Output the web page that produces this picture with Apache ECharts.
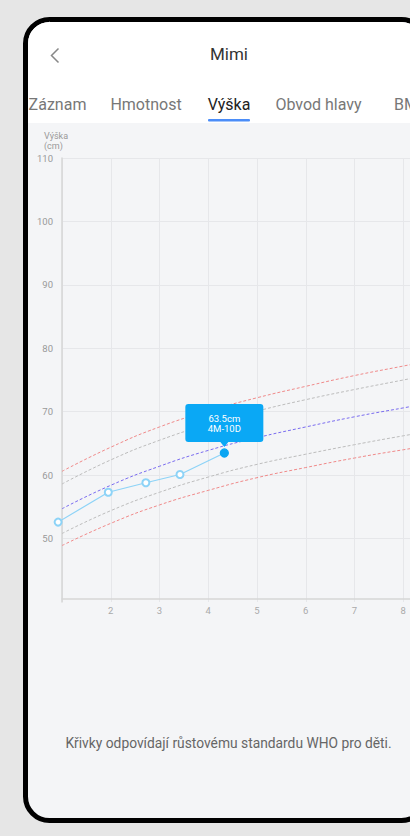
<!DOCTYPE html>
<html>
<head>
<meta charset="utf-8">
<script src="https://cdn.jsdelivr.net/npm/echarts@6/dist/echarts.min.js"></script>
<style>
html,body{margin:0;padding:0;background:#e6e6e6;overflow:hidden;}
#chart{width:410px;height:836px;}
</style>
</head>
<body>
<div id="chart"></div>
<script>
// WHO length-for-age reference curves (months 1..9)
const months = [1, 2, 3, 4, 5, 6, 7, 8, 9];
const sdMinus3 = [48.9, 52.4, 55.3, 57.6, 59.6, 61.2, 62.7, 64.0, 65.2];
const sdMinus2 = [50.8, 54.4, 57.3, 59.7, 61.7, 63.3, 64.8, 66.2, 67.5];
const median   = [54.7, 58.4, 61.4, 63.9, 65.9, 67.6, 69.2, 70.6, 72.0];
const sdPlus2  = [58.6, 62.4, 65.5, 68.0, 70.1, 71.9, 73.5, 75.0, 76.5];
const sdPlus3  = [60.6, 64.4, 67.6, 70.1, 72.2, 74.0, 75.7, 77.2, 78.7];

// Measurements of the child
const ages    = [0.92, 1.95, 2.72, 3.42, 4.33];
const heights = [52.6, 57.3, 58.8, 60.1, 63.5];
const ageLabels = ['0M-28D', '1M-29D', '2M-22D', '3M-13D', '4M-10D'];

// Texts
const title = 'Mimi';
const tabs = ['Záznam', 'Hmotnost', 'Výška', 'Obvod hlavy', 'BMI'];
const yNameLines = ['Výška', '(cm)'];
const footnote = 'Křivky odpovídají růstovému standardu WHO pro děti.';

const pair = (xs, ys) => xs.map((x, i) => [x, ys[i]]);

const curve = (data, color) => ({
  type: 'line',
  data: pair(months, data),
  smooth: true,
  symbol: 'none',
  silent: true,
  lineStyle: { color: color, width: 1, type: [3, 2] },
  z: 2
});

const F = 'Roboto, "Noto Sans", sans-serif';

const chart = echarts.init(document.getElementById('chart'), null, { renderer: 'svg' });

const last = ages.length - 1;
const measured = pair(ages, heights).map((p, i) => i === last
  ? { value: p, symbol: 'circle', symbolSize: 8, itemStyle: { color: '#0aa5f2', borderColor: '#0aa5f2' } }
  : { value: p });

chart.setOption({
  animation: false,
  backgroundColor: '#e6e6e6',
  textStyle: { fontFamily: F },
  graphic: [
    { type: 'rect', z: -20, shape: { x: 25.5, y: 19.5, width: 400, height: 801, r: 24 },
      style: { fill: '#f4f5f7', stroke: '#000', lineWidth: 5 } },
    { type: 'rect', z: -19, shape: { x: 28, y: 22, width: 395, height: 101, r: [21.5, 21.5, 0, 0] },
      style: { fill: '#ffffff' } },
    { type: 'polyline', z: 5, shape: { points: [[58.5, 48.5], [51.5, 55.5], [58.5, 62.5]] },
      style: { stroke: '#888', lineWidth: 1.5, fill: null } },
    { type: 'text', z: 5, x: 229, y: 54, style: { text: title, font: '17px ' + F, fill: '#333', align: 'center', verticalAlign: 'middle' } },
    { type: 'text', z: 5, x: 57.5, y: 104, style: { text: tabs[0], font: '16px ' + F, fill: '#777', align: 'center', verticalAlign: 'middle' } },
    { type: 'text', z: 5, x: 146, y: 104, style: { text: tabs[1], font: '16px ' + F, fill: '#777', align: 'center', verticalAlign: 'middle' } },
    { type: 'text', z: 5, x: 229, y: 104, style: { text: tabs[2], font: '16px ' + F, fill: '#222', align: 'center', verticalAlign: 'middle' } },
    { type: 'text', z: 5, x: 318.5, y: 104, style: { text: tabs[3], font: '16px ' + F, fill: '#777', align: 'center', verticalAlign: 'middle' } },
    { type: 'text', z: 5, x: 394, y: 104, style: { text: tabs[4], font: '16px ' + F, fill: '#777', align: 'left', verticalAlign: 'middle' } },
    { type: 'rect', z: 5, shape: { x: 208, y: 119, width: 42, height: 2.5, r: 1 }, style: { fill: '#4b8df8' } },
    { type: 'text', z: 5, x: 44, y: 136, style: { text: yNameLines[0], font: '9px ' + F, fill: '#999', align: 'left', verticalAlign: 'middle' } },
    { type: 'text', z: 5, x: 44, y: 145.5, style: { text: yNameLines[1], font: '9px ' + F, fill: '#999', align: 'left', verticalAlign: 'middle' } },
    { type: 'text', z: 5, x: 228.5, y: 743, style: { text: footnote, font: '13.8px ' + F, fill: '#666', align: 'center', verticalAlign: 'middle' } }
  ],
  grid: { left: 62, top: 158, width: 390, height: 444, containLabel: false, outerBoundsMode: 'none' },
  xAxis: {
    type: 'value', min: 1, max: 9, interval: 1, offset: -3,
    axisLine: { show: true, lineStyle: { color: '#d6d6d6', width: 1.5 } },
    axisTick: { show: false },
    axisLabel: { showMinLabel: false, color: '#aaa', fontSize: 9.5, margin: 6, fontFamily: F },
    splitLine: { show: true, lineStyle: { color: '#e6e7ea', width: 1 } }
  },
  yAxis: {
    type: 'value', min: 40, max: 110, interval: 10,
    axisLine: { show: true, lineStyle: { color: '#d6d6d6', width: 1.5 } },
    axisTick: { show: false },
    axisLabel: { showMinLabel: false, color: '#999', fontSize: 9.5, margin: 9, fontFamily: F },
    splitLine: { show: true, showMinLine: false, lineStyle: { color: '#e6e7ea', width: 1 } }
  },
  series: [
    curve(sdPlus3, '#f08a8a'),
    curve(sdPlus2, '#bdbdbd'),
    curve(median, '#7a6cf0'),
    curve(sdMinus2, '#bdbdbd'),
    curve(sdMinus3, '#f08a8a'),
    {
      type: 'line',
      data: measured,
      clip: false,
      symbol: 'emptyCircle',
      symbolSize: 7,
      lineStyle: { color: '#8dd3f7', width: 1.2 },
      itemStyle: { color: '#8dd3f7', borderWidth: 1.3 },
      z: 5,
      markPoint: {
        silent: true,
        symbol: 'path://M3,0H75Q78,0,78,3V35Q78,38,75,38H43L39,43L35,38H3Q0,38,0,35V3Q0,0,3,0Z',
        symbolSize: [78, 43],
        symbolOffset: [0, -27.5],
        itemStyle: { color: '#0aa8f5' },
        label: {
          show: true, position: 'inside', offset: [0, -1.5],
          color: '#fff', fontSize: 9.5, lineHeight: 10, fontFamily: F,
          formatter: heights[last] + 'cm\n' + ageLabels[last]
        },
        data: [{ coord: [ages[last], heights[last]] }]
      }
    }
  ]
});
</script>
</body>
</html>
